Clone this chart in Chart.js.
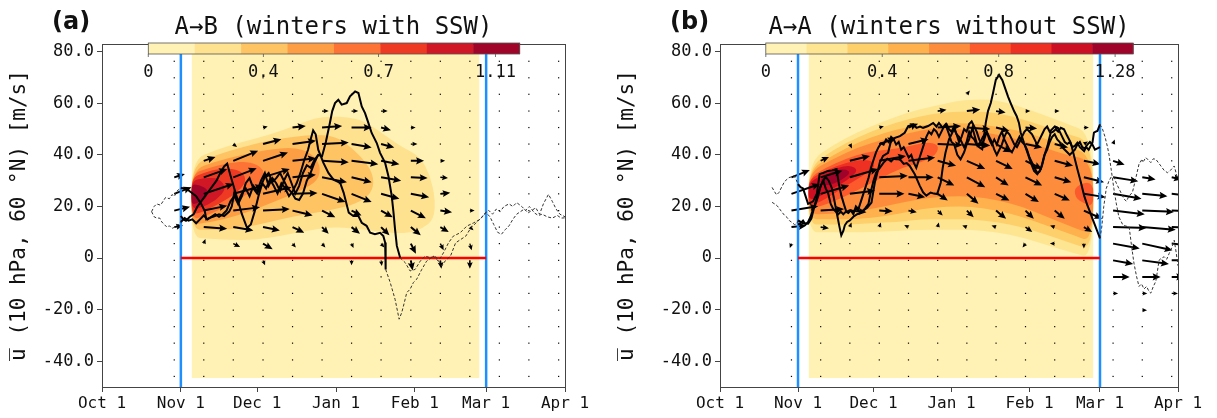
<!DOCTYPE html>
<html>
<head>
<meta charset="utf-8">
<script src="https://cdn.jsdelivr.net/npm/chart.js@4.4.0/dist/chart.umd.min.js"></script>
<style>
  body { margin: 0; background: #fff; width: 1217px; height: 418px; overflow: hidden; position: relative; }
  .panel { position: absolute; top: 0; height: 418px; }
  #pa { left: 0; width: 608px; }
  #pb { left: 608px; width: 609px; }
  .tag { position: absolute; top: 9px; font: bold 24px "DejaVu Sans", sans-serif; line-height: 1; color: #111; }
</style>
</head>
<body>
<div class="panel" id="pa"><canvas id="chartA" width="608" height="418"></canvas></div>
<div class="panel" id="pb"><canvas id="chartB" width="609" height="418"></canvas></div>
<div class="tag" style="left:52px">(a)</div>
<div class="tag" style="left:670px">(b)</div>
<script>
// ---- shared axes (days since Oct 1) ----
const monthDays = [0, 31, 61, 92, 123, 151, 182];
const monthLabels = ["Oct 1", "Nov 1", "Dec 1", "Jan 1", "Feb 1", "Mar 1", "Apr 1"];
const yTicks = [-40, -20, 0, 20, 40, 60, 80];
const yRange = [-50, 83];
const windowDays = [31, 151]; // Nov 1 .. Mar 1
const fieldDays = [35.2, 148.4];
const fieldVals = [-46.6, 82];
const quiverDays = [28.4, 40.0, 51.6, 63.3, 74.9, 86.5, 98.1, 109.7, 121.4, 133.0, 144.6, 156.2, 167.8, 179.5];
const quiverVals = [-45.9, -39.5, -33.0, -26.6, -20.2, -13.7, -7.3, -0.9, 5.6, 12.0, 18.4, 24.9, 31.3, 37.7, 44.2, 50.6, 57.0, 63.5, 69.9, 76.3];
const yLabel = "u\u0305 (10 hPa, 60 °N) [m/s]";

// ---- panel (a) ----
const aTitle = "A→B (winters with SSW)";
const aColors = ["#fff2b4", "#fee290", "#fec463", "#fd9e45", "#fc7335", "#ee3a23", "#cf1726", "#a10429"];
const aCbarLabels = ["0", "0.4", "0.7", "1.11"];
const aBand1 = [[35,38],[45,42],[55,45],[65,47.5],[75,51],[80,53],[87,55],[100,54.5],[108,50],[117,43.5],[125,39.5],[129,32],[131,23],[130.5,15],[126,11.5],[120,9.5],[110,10],[100,11.5],[90,12],[80,10.5],[70,8.5],[60,7],[50,7],[42,7.5],[35,8]];
const aBand2 = [[35,36],[45,40],[55,43],[65,45.5],[75,47],[85,48],[92,47],[98,43],[104,37],[107,31],[106,25],[100,21],[90,18.5],[80,17],[70,15],[60,12.5],[50,11],[42,11],[35,11]];
const aBand3 = [[35,34],[45,37.5],[55,40],[65,42],[75,43],[82,41],[86,36],[85,30],[78,26],[68,22],[58,18],[48,15],[40,13.5],[35,13]];
const aBand4 = [[35,32.5],[42,35],[50,37],[58,37.5],[64,34.5],[63,29],[56,24],[48,19.5],[40,16],[35,15]];
const aBand5 = [[35,31],[40,33],[47,35],[55,34],[57,29.5],[52,24.5],[45,20.5],[39,17.5],[35,17]];
const aBand6 = [[35,30],[40,31],[46,31],[49,27],[45,22.5],[39,19.5],[35,19]];
const aBand7 = [[35,28.5],[38,28.5],[42,26.5],[41,23],[37,21],[35,21]];
// [column, row, du (days), dv (m/s)]
const aArrows = [
  [5,16,2.6,0],[6,16,2.6,0],[7,16,2.6,0],
  [3,15,1.2,0.3],[4,15,5.2,0.6],[5,15,7.9,0.6],[6,15,7.9,0],[7,15,3.9,-1],[8,15,1.3,0],
  [2,14,1.0,-0.8],[3,14,7.2,1.9],[4,14,9.2,1.3],[5,14,10.5,0.6],[6,14,7.9,-1.3],[7,14,5.2,-1.3],[8,14,2.6,0],
  [1,13,4.6,1.5],[2,13,9.8,3.9],[3,13,9.8,3.2],[4,13,9.2,1],[5,13,10.5,-0.6],[6,13,10.5,-1.3],[7,13,7.2,-1.3],[8,13,5.2,0],[9,13,1.7,0],
  [0,12,4.2,1.3],[1,12,9.2,3.2],[2,12,9.2,3.5],[3,12,10.5,3.2],[4,12,9.2,1],[5,12,9.8,-1.9],[6,12,7.9,-1.9],[7,12,7.9,-1.3],[8,12,6.6,-0.3],[9,12,3,-0.3],
  [0,11,6.8,2.6],[1,11,11.8,3.9],[2,11,11.8,3.2],[3,11,11.2,2.6],[4,11,9.8,0.3],[5,11,9.2,-3.2],[6,11,7.9,-3.2],[7,11,7.2,-1.9],[8,11,7.2,-1.3],[9,11,3.9,0.4],
  [0,10,6.2,1.5],[1,10,9.2,1.9],[2,10,10.5,1.3],[3,10,10.5,0.6],[4,10,7.9,-1.9],[5,10,5.2,-2.6],[6,10,3.9,-1.9],[7,10,4.6,-2.6],[8,10,5.9,-3],[9,10,4.6,-0.6],[10,10,1,0],
  [0,9,3.5,0.6],[1,9,9.2,-0.6],[2,9,7.9,-1.3],[3,9,6.6,-1.3],[4,9,4.6,-2.2],[5,9,2.6,-2.6],[6,9,3.3,-2.6],[7,9,3.3,-3.2],[8,9,3.9,-3.2],[9,9,3.3,-1.9],[10,9,1.2,-1],
  [1,8,0.3,0.8],[2,8,2.7,-1.3],[3,8,3.8,-2.2],[4,8,1.3,-1.5],[5,8,1.3,-1.5],[6,8,0.7,-1.5],[7,8,1.3,-1.5],[8,8,2,-3.9],[9,8,1.3,-2.6],[10,8,0.7,-2.6],
  [3,7,0.8,-1.9],[6,7,0,-1.9],[7,7,0.3,-2.2],[8,7,0.7,-3.9],[9,7,0.4,-3.2],[10,7,0,-3.2]
];
const aLine1 = [[31,27.2],[33,27],[35,25.5],[37,24],[39,21],[40.4,18.2],[41,15],[42.4,15.6],[44.4,16.3],[46,17],[48,16.3],[50,18],[51,20],[52,25.3],[53.5,22],[55,25],[56.5,27],[58,24],[59.5,28],[61,26],[62.5,30],[64,33],[65.5,28],[67,31],[68.5,29],[70,26],[71.5,30],[73,33],[74.5,29],[76,25],[77.5,28],[79,33],[80.5,36],[82,35],[83.5,38],[85,40],[86.5,39.5],[88,45],[89.5,52],[90.5,57],[91.6,60.1],[92.9,61.4],[94.2,59.5],[96.2,60.1],[97.5,62.7],[99.5,64.6],[100.8,64],[102.1,58.8],[103.4,56.2],[104.7,52.4],[106,48.5],[108,44.6],[109.3,40.8],[111.3,36.9],[112.6,31.7],[113.9,24],[114.6,17.5],[115.2,11.1],[115.9,4.7],[117.2,0.1]];
const aLine2 = [[31,16.3],[32,15],[33,14.5],[34.5,16],[36,17],[37.5,20],[39,22],[40.5,24],[42,26],[43.5,28],[45,30],[46.5,33],[48,35.5],[49.2,36.6],[50.5,32],[52,27],[53.5,22],[55,17],[57,11.7],[58.5,13],[60,18],[61.5,24],[63,29],[64.5,27],[66,30.5],[67.5,28],[69,25],[70.5,29],[72,27],[73.5,24],[75,26],[76.5,29],[78,33],[79.5,38],[81,42],[82,46],[83,49.5],[84,48],[85,42],[86,39.5],[87,37],[89,33],[91,30.4],[93.6,29.2],[95,25.3],[97,17.6],[98.8,16.3],[100.8,16.3],[102.1,13.7],[104,12.5],[105.4,9.8],[107.3,9.2],[109.3,9.8],[110.6,8.5],[111.3,6],[111.5,-4.4]];
const aLine3 = [[31,14],[32.5,15.5],[34,14.5],[35.5,15],[37,13.5],[38.5,15],[40,16.5],[41.5,15],[43,16],[44.5,17],[46,16],[47.5,17],[49,18.5],[50.5,22],[52,24],[53.5,21],[55,24],[56.5,29],[58,31],[59.5,27],[61,25],[62.5,28],[64,31.5],[65.5,33],[67,29.5],[68.5,31],[70,33],[71.5,30],[73,27],[74.5,25.5],[76,23],[77.5,22.5],[79,25],[80.5,30],[82,33],[83.5,37],[85,40]];
const aDashPre1 = [[19.5,18],[20.5,20],[21.5,21],[23,20.5],[24,22],[25,23.5],[26.5,23],[27.5,24.6],[28.5,24],[29.5,26],[31,27.2]];
const aDashPre2 = [[19.5,18],[20.5,16],[21.5,15.5],[22.7,15.5],[23.5,14],[24.5,13],[25.5,12],[26.5,12.5],[27.5,11.5],[28,11.7],[29,12.5],[30,13],[31,14]];
const aDashPost1 = [[111.5,-4.4],[113.3,-9.5],[115.2,-16],[116.8,-23.7],[117.8,-21.2],[118.5,-18.6],[119.8,-13.4],[121.1,-12.1],[122.4,-9.5],[123.7,-8.2],[125.7,-4.4],[127.6,-1.2],[130.3,0.8],[132.2,-1.2],[134.2,2],[136.2,5.9],[138.1,8.5],[140.8,9.8],[143.4,12.4],[146,13.6],[148.6,15],[151,17.6],[152.5,16],[154,13],[155.5,10],[157,9.2],[158.5,11],[160,12.5],[161.5,15],[163,17],[164.5,18],[166,19],[167.5,17.5],[169,18.5],[170.5,19.5],[172,17],[173.5,21],[175.5,24.7],[177,22],[178.5,19],[180,17],[182,16]];
const aDashPost2 = [[117.2,0.1],[119.2,-1.8],[121.1,-5],[123.1,-4.4],[125.1,-1.2],[127,0.8],[129,0.1],[131,0.8],[133.6,-3],[135,-1],[137,0.8],[139,5.9],[141,7.2],[143,8.5],[145,11.7],[147,13.6],[149,15.5],[150.7,17.6],[152,18.5],[153.5,17],[155,19],[156.5,18],[158,20],[160,21],[161.5,20],[163,21.5],[165,20],[166.5,18.5],[168,20],[170,17.5],[171.5,16.5],[173,17],[175,16],[177,15.5],[179,16.5],[180.5,15.5],[182,15.6]];

// ---- panel (b) ----
const bTitle = "A→A (winters without SSW)";
const bColors = ["#fff2b4", "#fee592", "#fed06c", "#feb14c", "#fd8d3c", "#fc5a2d", "#ee3022", "#cd0f24", "#a00329"];
const bCbarLabels = ["0", "0.4", "0.8", "1.28"];
const bBand1 = [[35,37],[45,44],[55,49],[65,53],[75,56.5],[85,59],[97,61.5],[110,61.5],[123,57.5],[137,52.5],[148.4,48],[148.4,0],[140,2],[130,5],[120,8],[110,10],[100,11],[90,11],[80,11],[70,10.5],[60,10],[50,10],[42,10],[35,10]];
const bBand2 = [[35,35],[45,42],[55,47],[65,51],[75,54],[85,56],[97,57],[110,56.5],[123,53],[137,48.5],[148.4,45],[148.4,3],[140,5.5],[130,9],[120,12],[110,14],[100,15],[90,15],[80,15],[70,14],[60,13.5],[50,13],[42,13],[35,13]];
const bBand3 = [[35,34],[45,40],[55,45],[65,48.5],[75,51],[85,52],[97,52.5],[110,51],[123,48.5],[137,43.5],[148.4,40],[148.4,6],[140,9],[130,12.5],[120,16],[110,18.5],[100,20],[90,20],[80,19],[70,17],[60,15.5],[50,15],[42,15],[35,15]];
const bBand4 = [[35,33],[45,38.5],[55,43],[65,46],[75,48.5],[85,50.5],[97,50],[110,48],[123,45],[137,40],[148.4,38],[148.4,9],[140,12],[130,16],[120,20],[110,22.5],[100,24],[90,24],[80,23],[70,21],[60,19],[50,17.5],[42,17],[35,17]];
const bBand5 = [[35,31],[42,35],[50,38.5],[58,41],[66,42],[74,43],[82,45],[87,44],[86,40],[80,37],[72,35],[64,31],[56,27],[48,23],[40,20],[35,19]];
const bBand5b = [[141,28],[148.4,30],[148.4,20],[145,21],[141,23.5]];
const bBand6 = [[35,30],[40,33],[47,36],[54,38],[60,38],[62,35.5],[57,32],[50,28],[43,23.5],[38,21],[35,20.5]];
const bBand7 = [[35,29],[40,32],[46,35],[52,36],[55,34],[51,30.5],[45,27],[39,23.5],[35,22.5]];
const bBand8 = [[40,31],[45,34],[50,34.5],[52,33],[48,30],[43,28],[40,28.5]];
const bArrows = [
  [6,17,0.4,0.5],
  [5,16,3.5,0.5],[6,16,5.3,0.6],[7,16,3.8,-0.6],[8,16,1.0,0],[9,16,0.8,0],
  [3,15,1,0.3],[4,15,3.8,1.5],[5,15,9.3,0.6],[6,15,9.3,-0.6],[7,15,5.3,-1.3],[8,15,4.6,-0.4],[9,15,1.3,0],[10,15,2,0],
  [2,14,0.4,-0.8],[3,14,6.6,2.2],[4,14,8,1.9],[5,14,10,-0.4],[6,14,9.3,-0.6],[7,14,6,-3.2],[8,14,6.6,-1.3],[9,14,5.3,-1.3],[10,14,0.8,0.5],[11,14,0.3,0.8],
  [1,13,3.3,1.5],[2,13,8,1.9],[3,13,10.6,1.9],[4,13,10.6,1.3],[5,13,7.3,-1.9],[6,13,7.3,-3.2],[7,13,6.6,-3.2],[8,13,6.6,-3.2],[9,13,7.3,-1.9],[10,13,6.6,-1.3],[11,13,4.6,-1.5],
  [0,12,7.3,2.8],[1,12,8.6,2.6],[2,12,11.3,3.2],[3,12,11.3,0.6],[4,12,10,0],[5,12,6.6,-3.2],[6,12,7.3,-3.8],[7,12,5,-3.2],[8,12,6.6,-3.2],[9,12,6.6,-1.9],[10,12,8,-1.9],[11,12,10,-1.5],[12,12,5.3,-0.8],[13,12,4,-0.8],
  [0,11,11.3,3.8],[1,11,11.3,3.2],[2,11,10,1.3],[3,11,10,0],[4,11,6.6,-1.3],[5,11,4,-2.6],[6,11,4.6,-3.8],[7,11,5.3,-2.6],[8,11,5.3,-3.2],[9,11,6,-2.6],[10,11,8.6,-1.3],[11,11,11.3,-1.9],[12,11,10,-0.9],[13,11,10,-0.9],
  [0,10,10.6,1.7],[1,10,9.3,0.6],[2,10,6.6,-0.6],[3,10,5.3,-0.3],[4,10,3.3,-0.6],[5,10,2,-1.9],[6,10,2.7,-2.6],[7,10,4,-3.2],[8,10,3.3,-3.2],[9,10,4,-3.2],[10,10,7.3,-3.2],[11,10,12.6,-1.4],[12,10,12.6,-0.5],[13,10,12,-0.5],
  [0,9,6,0.6],[1,9,3.3,-0.4],[2,9,0.3,0.8],[3,9,0.3,0.8],[4,9,-0.6,0.3],[5,9,0.2,0.8],[6,9,-0.6,0.2],[7,9,-0.6,0.2],[8,9,2.7,-1.9],[9,9,-0.6,0.2],[10,9,3.3,-1.9],[11,9,13.3,-0.3],[12,9,13.3,-1],[13,9,12,-0.5],
  [0,8,-0.3,-0.8],[8,8,-0.4,-0.5],[9,8,-0.6,0],[10,8,0,-0.8],[11,8,10.6,-1.9],[12,8,12,-2.6],[13,8,12,-1],
  [11,7,8,-1.4],[12,7,10.6,-1.4],[13,7,8,0],
  [11,6,6.6,0],[12,6,7.3,0],[13,6,5,0],
  [11,5,2,0],[12,5,2,0],[13,5,2.5,0],
  [12,4,0.3,0]
];
const bLine1 = [[31,28.7],[32,27.5],[33,27],[34,24],[35,21],[36,21.5],[37,22],[38.5,25],[39.6,32.6],[41,33],[42.9,33.8],[44.5,34],[46.3,34.5],[47.2,29],[48.2,24.3],[49.2,21],[50.2,17.9],[51.5,18.5],[52.9,17.9],[54.2,19.2],[55.5,17.9],[57,18.5],[58.5,19.5],[60.2,21.5],[61.5,29.2],[62.5,33],[63.5,37],[64.8,39.6],[66.8,40.8],[68.1,46],[69.5,46.6],[71.5,47.3],[73.4,48.6],[74.8,51.2],[76.8,51.8],[78.1,50.5],[79.5,51],[80.7,50.5],[82.7,51.2],[84.7,52.4],[86,51],[87,52.4],[88.5,50.5],[89.6,51.8],[91,48],[92,45],[93,44.2],[94.3,40],[95.6,38.3],[97,41],[98,44],[99,46],[100.3,50.5],[101.3,47],[102.3,43.6],[103.5,45],[104.5,47],[106,49],[107,47],[108,45],[109,42],[110,40],[111,42],[112,44],[113,47],[114,49],[115,48],[116,46],[117,44],[118,43],[119,45],[120,47],[121,49],[122,50],[123,49],[124,48],[125,46],[126,44],[127,46],[128,48],[129,50],[130,51],[131,49],[132,50],[133,51],[134.1,50.5],[135,49],[136,47],[137,45],[138,44.2],[139,45],[140,43],[141,43.5],[142,44.7],[143,43],[144.7,41.5],[145.5,43],[146.5,42],[147.3,43.5],[148,44.7],[148.6,48.6],[149.3,49],[150,49.3],[151,51.8]];
const bLine2 = [[31,14.6],[32,14],[33,13.5],[35,13.3],[36.3,15.3],[37.6,20.4],[39,25.5],[40.5,29],[42,31.5],[43.2,30],[44.5,27],[45.5,22],[46.5,17],[47.5,12],[48.2,8.8],[49,10.5],[49.6,12.7],[50.5,14],[51.6,14.6],[53,16],[54.5,17],[56,17.5],[57.5,19],[59,21],[60,26],[61,30],[62,33],[63.5,35],[65,37],[66.5,38.5],[68,37.5],[69,38.5],[70,38.3],[71.5,38.3],[73,36.5],[74.2,36.8],[75.4,35.7],[77.4,32.5],[79.4,28],[80.7,25.5],[82,24.2],[83.7,25.4],[85,25],[86.3,24.8],[87.7,29.2],[88.5,35],[89.6,40.8],[91,46],[92,48],[93,50],[94,48],[95,47],[96,45],[97,43],[98,45],[99,49],[100,47],[101,46],[102,44],[103,43],[104.2,42.2],[105,48],[105.6,52.4],[106.5,57],[107.6,60.1],[108.5,64],[109.6,69.1],[110.9,71],[112.2,69],[113.5,65.3],[114.5,62.5],[115.5,60.1],[116.9,56.9],[117.9,55],[118.8,52.4],[119.5,48.6],[120.8,44.7],[122.2,40.8],[123.5,37],[124.8,33.8],[126.1,32.5],[127.5,34.5],[128.8,39.6],[130.1,43.4],[131.4,48.6],[132.4,49],[133.4,49.9],[134.4,49],[135.4,50.5],[136.7,49.9],[138,47.3],[139.4,44.7],[140.7,39.6],[142,34.5],[143.4,29.4],[144.7,24.2],[146,20.4],[147,18],[148,15.3],[149,12.8],[150,10.2],[151,7.6]];
const bLine3 = [[31,13],[32,13.5],[33,14.5],[34,13],[35,14],[36,16],[37,19],[38,21],[39,24],[40,28],[41,30],[42,27],[43,25],[44,21],[45,19],[46,18],[47,17],[48,18],[49,17],[50,18],[51,17.5],[52,18.5],[53,17],[54,20],[55,19],[56,22],[57,25],[58,28],[59,31],[60,35],[61,38],[62,41],[63,43],[64,44.5],[65,44],[66,46],[67,45],[68,47],[69,46],[70,44],[71,45],[72,42],[73,43],[74,41],[75,39],[76,40],[77,37],[78,35],[79,38],[80,41],[81,44],[82,47],[83,49],[84,48],[85,50],[86,49],[87,47],[88,49],[89,51],[90,52],[91,50],[92,49],[93,51],[94,48],[95,45],[96,47],[97,50],[98,49],[99,52],[100,53],[101,51],[102,49],[103,46],[104,44],[105,46],[106,49],[107,46],[108,44],[109,46],[110,44],[111,47],[112,49],[113,46],[114,44],[115,42],[116,41],[117,43],[118,45],[119,47],[120,45],[121,44],[122,42],[123,39],[124,37],[125,35],[126,33],[127,33.5],[128,36],[129,40],[130,42],[131,45],[132,47],[133,48],[134,46],[135,45],[136,43],[137,42],[138,41],[139,40],[140,41],[141,42],[142,44],[143,45],[144,43],[145,42.5],[146,44],[147,45],[148,44],[149,42],[150,42.5],[151,43]];
const bDashPre1 = [[20.7,27.4],[21.5,26],[22.5,24.5],[23.4,25.4],[24.5,27.5],[25.4,29.2],[26.5,30.5],[27.4,31.2],[28.5,31.5],[29.4,31.9],[30.2,30.5],[31,28.7]];
const bDashPre2 = [[20.7,21.6],[21.7,21],[22.7,20.3],[23.7,19],[24.7,17.7],[25.7,16.5],[26.6,15.8],[27.6,14.5],[28.6,13.8],[29.6,13],[30.5,13.2],[31,14.6]];
const bDashPost1 = [[151,51.8],[152,50],[153,47],[154,43],[154.6,40],[155.5,34],[156.5,27],[157.5,21],[158.5,16],[160,13],[161,12.5],[162.6,12],[163.5,5],[164.5,-2],[165.5,-7],[166.5,-11],[167.5,-10],[168.5,-12],[169.5,-11],[170.5,-13],[171.2,-13.6],[172.2,-11],[173.2,-9],[174.5,-0.8],[175.5,0],[176.5,0.5],[177.5,-0.5],[178.5,1.8],[179.5,4],[180.5,6.9],[181.3,2],[182,-3]];
const bDashPost2 = [[151,7.6],[151.7,12],[152.5,20],[153.5,27],[154.6,30],[155.5,31.5],[156.6,31.3],[157.5,29],[158.5,27],[159.5,25],[160.5,23],[161.5,22],[162.5,24],[163.9,25.5],[165,30],[166.5,36.4],[167.5,38],[168.3,37.5],[169.2,39],[170.2,38],[171.2,37],[172.2,38.5],[173.2,38.3],[174.2,37],[175.2,35.7],[176.5,34],[177.8,33.1],[179,34],[180.5,35.7],[181.8,31]];

const FONT = '"DejaVu Sans Mono", monospace';
Chart.defaults.font.family = FONT;
Chart.defaults.color = "#111";

const toXY = (pts) => pts.map(([x, y]) => ({ x, y }));

function drawArrow(ctx, x0, y0, x1, y1) {
    const dx = x1 - x0, dy = y1 - y0, len = Math.hypot(dx, dy);
    if (len < 0.01) {
        ctx.fillRect(x0 - 0.6, y0 - 0.6, 1.2, 1.2);
        return;
    }
    const ux = dx / len, uy = dy / len, nx = -uy, ny = ux;
    let hl = 8, ha = 7, hw = 3.6, sw = 1.0;
    if (len < hl * 1.3) {
        const s = Math.max(len / (hl * 1.3), 0.6);
        hl *= s; ha *= s; hw *= s; sw *= s;
    }
    const L = Math.max(len, hl);
    const P = (a, b) => [x0 + ux * a + nx * b, y0 + uy * a + ny * b];
    const pts = [P(0, sw), P(L - ha, sw), P(L - hl, hw), P(L, 0), P(L - hl, -hw), P(L - ha, -sw), P(0, -sw)];
    ctx.beginPath();
    pts.forEach(([X, Y], k) => (k ? ctx.lineTo(X, Y) : ctx.moveTo(X, Y)));
    ctx.closePath();
    ctx.fill();
}

function smoothPoly(ctx, pts) {
    const n = pts.length;
    const mid = (a, b) => [(a[0] + b[0]) / 2, (a[1] + b[1]) / 2];
    const m = mid(pts[n - 1], pts[0]);
    ctx.beginPath();
    ctx.moveTo(m[0], m[1]);
    for (let k = 0; k < n; k++) {
        const p = pts[k], q = mid(p, pts[(k + 1) % n]);
        ctx.quadraticCurveTo(p[0], p[1], q[0], q[1]);
    }
    ctx.closePath();
    ctx.fill();
}

function buildPanel(canvasId, p) {
    const fieldPlugin = {
        id: "field",
        beforeDatasetsDraw(chart) {
            const { ctx, chartArea: ca } = chart;
            const X = (d) => chart.scales.x.getPixelForValue(d);
            const Y = (v) => chart.scales.y.getPixelForValue(v);
            const fx0 = X(fieldDays[0]), fx1 = X(fieldDays[1]);
            const fy0 = Y(fieldVals[1]), fy1 = Y(fieldVals[0]);

            // filled contour bands
            ctx.save();
            ctx.beginPath();
            ctx.rect(fx0, fy0, fx1 - fx0, fy1 - fy0);
            ctx.clip();
            ctx.fillStyle = p.colors[0];
            ctx.fillRect(fx0, fy0, fx1 - fx0, fy1 - fy0);
            p.bands.forEach((b) => {
                ctx.fillStyle = p.colors[b.level];
                smoothPoly(ctx, b.pts.map(([d, v]) => [X(d), Y(v)]));
            });
            ctx.restore();

            // quiver
            ctx.save();
            ctx.beginPath();
            ctx.rect(ca.left, ca.top, ca.width, ca.height);
            ctx.clip();
            ctx.fillStyle = "#000";
            const used = new Set(p.arrows.map((a) => a[0] + "," + a[1]));
            quiverDays.forEach((d, i) =>
                quiverVals.forEach((v, j) => {
                    if (!used.has(i + "," + j)) ctx.fillRect(X(d) - 0.6, Y(v) - 0.6, 1.2, 1.2);
                })
            );
            p.arrows.forEach(([i, j, du, dv]) => {
                const d = quiverDays[i], v = quiverVals[j];
                drawArrow(ctx, X(d), Y(v), X(d + du), Y(v + dv));
            });
            ctx.restore();
        },
        afterDraw(chart) {
            const { ctx, chartArea: ca } = chart;
            ctx.save();
            ctx.strokeStyle = "#444";
            ctx.lineWidth = 1;
            ctx.strokeRect(Math.round(ca.left) + 0.5, Math.round(ca.top) + 0.5, Math.round(ca.width), Math.round(ca.height));

            // colour bar
            const bx0 = ca.left + ca.width * 0.1, bx1 = ca.left + ca.width * 0.902;
            const by = ca.top - 1, bh = 11;
            const w = (bx1 - bx0) / p.colors.length;
            p.colors.forEach((c, k) => {
                ctx.fillStyle = c;
                ctx.fillRect(bx0 + k * w, by, w + 0.5, bh);
            });
            ctx.strokeStyle = "#555";
            ctx.lineWidth = 0.8;
            ctx.strokeRect(bx0, by, bx1 - bx0, bh);
            ctx.fillStyle = "#111";
            ctx.font = "17px " + FONT;
            ctx.textAlign = "center";
            ctx.textBaseline = "middle";
            p.cbarLabels.forEach((t, k) => {
                const x = bx0 + (bx1 - bx0) * p.cbarPos[k];
                ctx.beginPath();
                ctx.moveTo(x, by + bh);
                ctx.lineTo(x, by + bh + 3);
                ctx.stroke();
                ctx.fillText(t, x, ca.top + 29);
            });
            ctx.restore();
        },
    };

    const solid = (pts) => ({ data: toXY(pts), showLine: true, borderColor: "#000", borderWidth: 2, pointRadius: 0 });
    const dashed = (pts) => ({ data: toXY(pts), showLine: true, borderColor: "#333", borderWidth: 1, borderDash: [3, 2], pointRadius: 0 });

    const datasets = [
        ...p.dashed.map(dashed),
        ...p.solid.map(solid),
        { data: toXY([[windowDays[0], 0], [windowDays[1], 0]]), showLine: true, borderColor: "#ff0000", borderWidth: 2.5, pointRadius: 0 },
        ...windowDays.map((d) => ({ data: toXY([[d, yRange[0]], [d, yRange[1]]]), showLine: true, borderColor: "#1e8fff", borderWidth: 2.5, pointRadius: 0 })),
    ];

    new Chart(document.getElementById(canvasId), {
        type: "scatter",
        data: { datasets },
        options: {
            responsive: false,
            animation: false,
            events: [],
            layout: { padding: { left: 0, right: p.padRight, top: 0, bottom: 0 } },
            plugins: {
                legend: { display: false },
                tooltip: { enabled: false },
                title: {
                    display: true,
                    text: p.title,
                    fullSize: false,
                    color: "#111",
                    font: { family: FONT, size: 24, weight: "normal" },
                    padding: { top: 13, bottom: 2.2 },
                },
            },
            scales: {
                x: {
                    type: "linear",
                    min: 0,
                    max: 182,
                    afterBuildTicks: (s) => { s.ticks = monthDays.map((v) => ({ value: v })); },
                    afterFit: (s) => { s.height = 31; },
                    ticks: { autoSkip: false, maxRotation: 0, padding: 2, font: { size: 16 }, color: "#111", callback: (v, i) => monthLabels[i] },
                    grid: { drawOnChartArea: false, drawTicks: true, tickLength: 5, color: "#444" },
                    border: { display: false },
                },
                y: {
                    min: yRange[0],
                    max: yRange[1],
                    afterBuildTicks: (s) => { s.ticks = yTicks.map((v) => ({ value: v })); },
                    afterFit: (s) => { s.width = p.axisWidth; },
                    ticks: { padding: 3, font: { size: 17 }, color: "#111", callback: (v) => (v === 0 ? "0" : v.toFixed(1)) },
                    grid: { drawOnChartArea: false, drawTicks: true, tickLength: 5, color: "#444" },
                    border: { display: false },
                    title: { display: true, text: yLabel, color: "#111", font: { family: FONT, size: 21 }, padding: { top: 7, bottom: 0 } },
                },
            },
        },
        plugins: [fieldPlugin],
    });
}

buildPanel("chartA", {
    title: aTitle,
    colors: aColors,
    cbarLabels: aCbarLabels,
    cbarPos: [0, 0.31, 0.62, 0.935],
    bands: [aBand1, aBand2, aBand3, aBand4, aBand5, aBand6, aBand7].map((pts, k) => ({ level: k + 1, pts })),
    arrows: aArrows,
    solid: [aLine1, aLine2, aLine3],
    dashed: [aDashPre1, aDashPre2, aDashPost1, aDashPost2],
    axisWidth: 102,
    padRight: 43,
});

buildPanel("chartB", {
    title: bTitle,
    colors: bColors,
    cbarLabels: bCbarLabels,
    cbarPos: [0, 0.317, 0.634, 0.951],
    bands: [
        { level: 1, pts: bBand1 }, { level: 2, pts: bBand2 }, { level: 3, pts: bBand3 }, { level: 4, pts: bBand4 },
        { level: 5, pts: bBand5 }, { level: 5, pts: bBand5b }, { level: 6, pts: bBand6 }, { level: 7, pts: bBand7 }, { level: 8, pts: bBand8 },
    ],
    arrows: bArrows,
    solid: [bLine1, bLine2, bLine3],
    dashed: [bDashPre1, bDashPre2, bDashPost1, bDashPost2],
    axisWidth: 112,
    padRight: 39,
});
</script>
</body>
</html>
